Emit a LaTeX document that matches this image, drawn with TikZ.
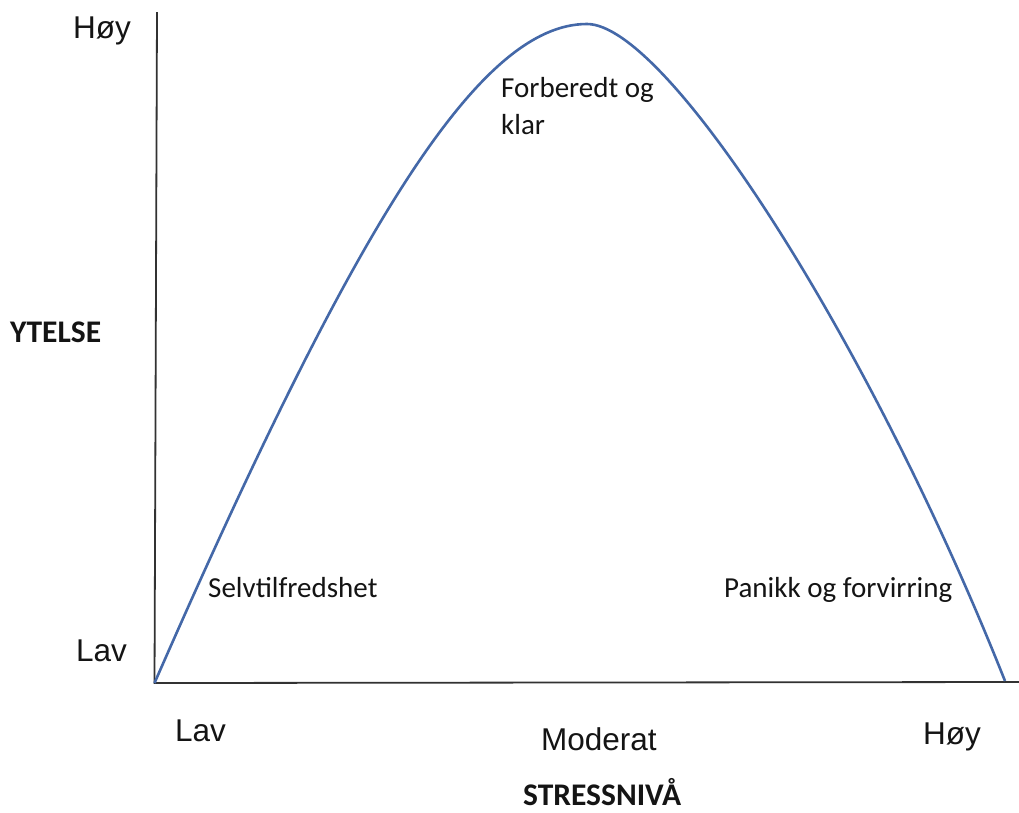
\documentclass[tikz,border=0pt]{standalone}
\usepackage{fontspec}
\newfontfamily\arialf{Liberation Sans}
\newfontfamily\calf{Carlito}
\definecolor{curveblue}{RGB}{68,104,168}
\definecolor{axisgray}{RGB}{50,50,50}
\definecolor{txt}{RGB}{20,20,20}
\begin{document}
\begin{tikzpicture}[x=1pt,y=-1pt,
  axisline/.style={draw=axisgray,line width=1.8pt},
  curveline/.style={draw=curveblue,line width=2.6pt,line join=round},
  ticklab/.style={inner sep=0pt,anchor=base west,text=txt,font=\arialf\fontsize{31.5}{38}\selectfont},
  zonelab/.style={inner sep=0pt,anchor=base west,text=txt,font=\calf\fontsize{29}{37}\selectfont},
  axtitle/.style={inner sep=0pt,anchor=base west,text=txt,font=\calf\bfseries\fontsize{31.5}{36}\selectfont}]
\useasboundingbox[fill=white] (0,0) rectangle (1019,812);
% axes
\coordinate (origin) at (154.5,683);
\coordinate (ytop) at (157,12);
\coordinate (xend) at (1019,682);
\coordinate (peakpt) at (587,24);
\coordinate (endpt) at (1005,681);
\draw[axisline] (ytop) -- (origin) -- (xend);
% curve
\draw[curveline] (origin) .. controls (357.5,219.5) and (480,24) .. (peakpt)
  .. controls (667,24) and (870,341) .. (endpt);
% labels
\node[ticklab] (yhigh) at (73,38) {Høy};
\node[ticklab] (ylow) at (76,661) {Lav};
\node[ticklab] (xlow) at (175,741) {Lav};
\node[ticklab] (xmid) at (541,750) {Moderat};
\node[ticklab] (xhigh) at (923,744) {Høy};
\node[axtitle] (ytitle) at (10,342) {YTELSE};
\node[axtitle] (xtitle) at (523,805) {STRESSNIVÅ};
\node[zonelab,align=left,anchor=north west] (peak) at (501,77) {Forberedt og\\klar};
\node[zonelab] (left) at (208,597) {Selvtilfredshet};
\node[zonelab] (right) at (724,597) {Panikk og forvirring};
\end{tikzpicture}
\end{document}
